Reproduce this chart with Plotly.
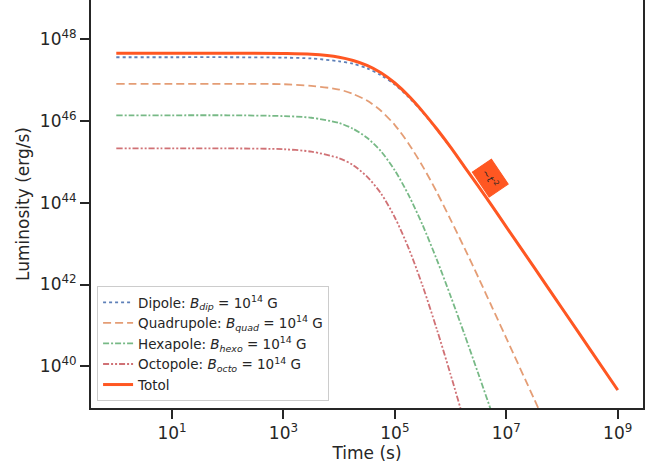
import plotly.graph_objects as go

# time grid (s) and luminosities (erg/s) as log10 values
log_t = [0, 1, 2, 3, 3.5, 4, 4.25, 4.5, 4.75, 5, 5.25, 5.5, 5.75, 6, 6.25, 6.5, 6.75, 7, 7.5, 7.75, 8, 8.5, 9]
log_dipole = [47.56, 47.56, 47.56, 47.55, 47.53, 47.46, 47.40, 47.29, 47.12, 46.89, 46.58, 46.21, 45.80, 45.35, 44.88, 44.40, 43.91, 43.41, 42.42, 41.92, 41.42, 40.42, 39.42]
log_quad = [46.91, 46.91, 46.91, 46.90, 46.86, 46.77, 46.66, 46.50, 46.25, 45.90, 45.44, 44.89, 44.27, 43.59, 42.89, 42.17, 41.43, 40.69, 39.20, 38.45, 37.70, 36.20, 34.70]
log_hexa = [46.14, 46.14, 46.14, 46.12, 46.08, 45.95, 45.81, 45.59, 45.26, 44.79, 44.18, 43.45, 42.62, 41.72, 40.78, 39.81, 38.83, 37.85, 35.86, 34.86, 33.86, 31.86, 29.86]
log_octo = [45.33, 45.33, 45.33, 45.31, 45.25, 45.09, 44.92, 44.64, 44.23, 43.64, 42.88, 41.96, 40.92, 39.80, 38.63, 37.42, 36.20, 34.96, 32.47, 31.22, 29.97, 27.47, 24.97]
log_total = [47.66, 47.66, 47.66, 47.65, 47.63, 47.56, 47.48, 47.36, 47.18, 46.93, 46.61, 46.23, 45.81, 45.36, 44.88, 44.40, 43.91, 43.41, 42.42, 41.92, 41.42, 40.42, 39.42]

x_ticks = [1, 3, 5, 7, 9]
y_ticks = [40, 42, 44, 46, 48]

t = [10.0 ** v for v in log_t]

series = [
    ("Dipole: <i>B</i><sub><i>dip</i></sub> = 10<sup>14</sup> G", log_dipole, "rgba(76,114,176,0.9)", "dot", 1.8),
    ("Quadrupole: <i>B</i><sub><i>quad</i></sub> = 10<sup>14</sup> G", log_quad, "rgba(221,132,82,0.8)", "8px,4px", 1.8),
    ("Hexapole: <i>B</i><sub><i>hexo</i></sub> = 10<sup>14</sup> G", log_hexa, "rgba(85,168,104,0.8)", "6px,2px,2px,2px", 1.8),
    ("Octopole: <i>B</i><sub><i>octo</i></sub> = 10<sup>14</sup> G", log_octo, "rgba(196,78,82,0.8)", "6px,2px,2px,2px,2px,2px", 1.8),
    ("Totol", log_total, "#FF5722", "solid", 3),
]

fig = go.Figure()
for name, vals, col, dash, w in series:
    fig.add_trace(go.Scatter(
        x=t, y=[10.0 ** v for v in vals], mode="lines", name=name,
        line=dict(color=col, dash=dash, width=w, shape="spline", smoothing=0.8),
    ))

fig.add_annotation(
    x=6.713, y=44.61, xref="x", yref="y", text="~<i>t</i><sup>-2</sup>",
    showarrow=False, textangle=56, bgcolor="#FF5722", bordercolor="#FF5722",
    borderpad=5, font=dict(size=10, color="#262626", family="DejaVu Sans"),
)

axis_common = dict(
    showline=True, linecolor="#262626", linewidth=2, ticks="outside",
    ticklen=9, tickwidth=1.5, tickcolor="#262626", showgrid=False, zeroline=False,
    automargin=False,
    tickfont=dict(size=17, color="#262626", family="DejaVu Sans"),
)

fig.update_layout(
    width=664, height=469,
    margin=dict(l=91, r=21, t=0, b=61, autoexpand=False),
    plot_bgcolor="white", paper_bgcolor="white",
    font=dict(family="DejaVu Sans", color="#262626"),
    xaxis=dict(type="log", range=[-0.454, 9.454],
               tickvals=[10.0 ** v for v in x_ticks],
               ticktext=[f"10<sup>{v}</sup>" for v in x_ticks],
               title=dict(text="Time (s)", font=dict(size=17), standoff=4),
               **axis_common),
    yaxis=dict(type="log", range=[38.98, 48.96], mirror=True,
               tickvals=[10.0 ** v for v in y_ticks],
               ticktext=[f"10<sup>{v}</sup>" for v in y_ticks],
               title=dict(text="Luminosity (erg/s)", font=dict(size=17), standoff=6),
               **axis_common),
    legend=dict(x=0.011, y=0.017, xanchor="left", yanchor="bottom",
                bgcolor="rgba(255,255,255,0.8)", bordercolor="#cccccc", borderwidth=1,
                font=dict(size=13.5, color="#262626", family="DejaVu Sans"),
                tracegroupgap=0),
    showlegend=True,
)

fig.write_html("out.html", config={"displayModeBar": False},
               post_script="document.body.style.margin='0';document.body.style.overflow='hidden';")
